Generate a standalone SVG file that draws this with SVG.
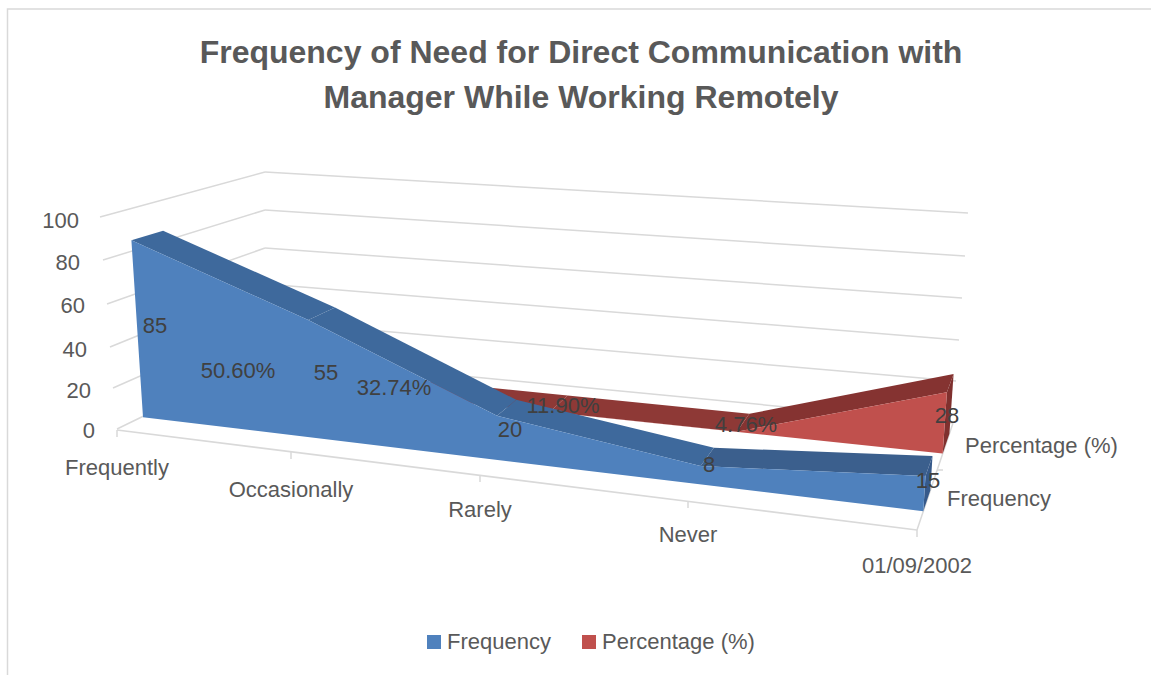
<svg xmlns="http://www.w3.org/2000/svg" width="1151" height="675" viewBox="0 0 1151 675">
<style>
.grid{stroke:#d9d9d9;stroke-width:1.5;fill:none}
.ax{font-family:"Liberation Sans",Arial,sans-serif;font-size:22px;fill:#595959}
.dl{font-family:"Liberation Sans",Arial,sans-serif;font-size:22px;fill:#404040;text-anchor:middle}
.ttl{font-family:"Liberation Sans",Arial,sans-serif;font-size:32px;font-weight:bold;fill:#595959;text-anchor:middle}
.bF{fill:#4f81bd}
.bR{fill:#3e699c}
.bR2{fill:#3b5f8d}
.bE{fill:#36598a}
.rF{fill:#c0504d}
.rR{fill:#8e3936}
.rR2{fill:#853331}
.rE{fill:#7f302e}
</style>
<rect x="0" y="0" width="1151" height="675" fill="#ffffff"/>
<path d="M7.5 675 V9 H1151" fill="none" stroke="#d9d9d9" stroke-width="1.5"/>

<g id="title">
<text class="ttl" x="581" y="63">Frequency of Need for Direct Communication with</text>
<text class="ttl" x="581" y="108">Manager While Working Remotely</text>
</g>

<g id="walls">
<line class="grid" x1="100" y1="217" x2="265" y2="172"/>
<line class="grid" x1="103" y1="260" x2="265" y2="210"/>
<line class="grid" x1="107" y1="304" x2="265" y2="248"/>
<line class="grid" x1="110" y1="347" x2="265" y2="284"/>
<line class="grid" x1="113" y1="388" x2="265" y2="321"/>
<line class="grid" x1="117" y1="429" x2="265" y2="357"/>
<line class="grid" x1="265" y1="172" x2="968" y2="213"/>
<line class="grid" x1="265" y1="210" x2="965" y2="256"/>
<line class="grid" x1="265" y1="248" x2="962" y2="298"/>
<line class="grid" x1="265" y1="284" x2="959" y2="340"/>
<line class="grid" x1="265" y1="321" x2="956" y2="381"/>
<line class="grid" x1="265" y1="357" x2="953" y2="423"/>
<line class="grid" x1="117" y1="430" x2="917" y2="530"/>
<line class="grid" x1="917" y1="530" x2="953" y2="423"/>
<path class="grid" d="M117 430 V437 M291 452 V459 M480 475 V482 M688 501 V508 M917 530 V537 M937 470 H943"/>
</g>

<g id="series-percentage">
<polygon class="rR" points="222.8,376.8 379.4,393.6 402.3,378.8 250.2,363.3"/>
<polygon class="rR" points="379.4,393.6 549.7,411.9 567.6,395.6 402.3,378.8"/>
<polygon class="rR" points="549.7,411.9 736.8,431.7 749.4,413.8 567.6,395.6"/>
<polygon class="rR2" points="736.8,431.7 946.9,392.3 953.6,374.1 749.4,413.8"/>
<polygon class="rE" points="946.9,392.3 953.6,374.1 949.4,433.7 942.7,453.5"/>
<polygon class="rF" points="222.8,376.8 379.4,393.6 549.7,411.9 736.8,431.7 946.9,392.3 942.7,453.5 222.8,377.8"/>
</g>

<g id="series-frequency">
<polygon class="bR" points="131.4,240.3 308.3,320 335,307.4 163.1,230.8"/>
<polygon class="bR" points="308.3,320 497,415.8 516.2,399.8 335,307.4"/>
<polygon class="bR" points="497,415.8 700.6,466.1 713.9,447.7 516.2,399.8"/>
<polygon class="bR2" points="700.6,466.1 925.5,476 932.5,456.1 713.9,447.7"/>
<polygon class="bE" points="925.5,476 932.5,456.1 930.3,490.4 923.3,511.2"/>
<polygon class="bF" points="131.4,240.3 308.3,320 497,415.8 700.6,466.1 925.5,476 923.3,511.2 143,417.2"/>
</g>

<g id="data-labels">
<text class="dl" x="155" y="333">85</text>
<text class="dl" x="326" y="380">55</text>
<text class="dl" x="510" y="437">20</text>
<text class="dl" x="709" y="472">8</text>
<text class="dl" x="928" y="488">15</text>
<text class="dl" x="238" y="378">50.60%</text>
<text class="dl" x="394" y="395">32.74%</text>
<text class="dl" x="563" y="413">11.90%</text>
<text class="dl" x="746" y="432">4.76%</text>
<text class="dl" x="947" y="423">28</text>
</g>

<g id="value-axis" class="ax" text-anchor="end">
<text x="79" y="228">100</text>
<text x="80" y="270">80</text>
<text x="85" y="313">60</text>
<text x="87" y="357">40</text>
<text x="91" y="398">20</text>
<text x="95" y="438">0</text>
</g>

<g id="category-axis" class="ax" text-anchor="middle">
<text x="117" y="475">Frequently</text>
<text x="291" y="497">Occasionally</text>
<text x="480" y="517">Rarely</text>
<text x="688" y="542">Never</text>
<text x="917" y="573">01/09/2002</text>
</g>

<g id="series-axis" class="ax">
<text x="965" y="453">Percentage (%)</text>
<text x="947" y="506">Frequency</text>
</g>

<g id="legend">
<rect x="427" y="635" width="14" height="14" fill="#4f81bd"/>
<text class="ax" x="447" y="649">Frequency</text>
<rect x="582" y="635" width="14" height="14" fill="#c0504d"/>
<text class="ax" x="602" y="649">Percentage (%)</text>
</g>
</svg>
